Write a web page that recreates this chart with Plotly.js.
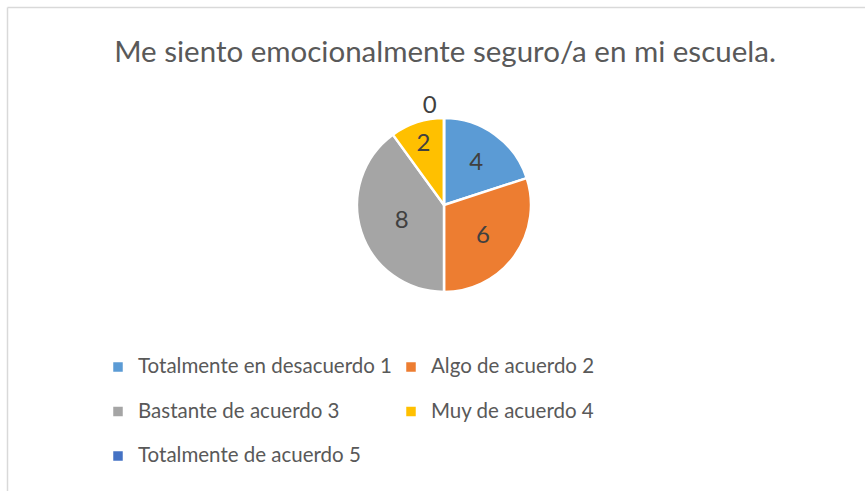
<!DOCTYPE html>
<html>
<head>
<meta charset="utf-8">
<script src="https://cdn.plot.ly/plotly-3.0.1.min.js"></script>
<style>
html,body{margin:0;padding:0;background:#fff;}
#chart{width:865px;height:491px;}
</style>
</head>
<body>
<div id="chart"></div>
<script>
const categories = [
  "Totalmente en desacuerdo 1",
  "Algo de acuerdo 2",
  "Bastante de acuerdo 3",
  "Muy de acuerdo 4",
  "Totalmente de acuerdo 5"
];
const values = [4, 6, 8, 2, 0];
const colors = ["#5B9BD5", "#ED7D31", "#A5A5A5", "#FFC000", "#4472C4"];
const titleText = "Me siento emocionalmente seguro/a en mi escuela.";

const W = 865, H = 491;
const cx = 444, cy = 205, r = 87;

const trace = {
  type: "pie",
  labels: categories.map(c => '<span style="font-size:20.5px">' + c + '</span><br> '),
  values: values,
  sort: false,
  direction: "clockwise",
  rotation: 0,
  textinfo: "value",
  textposition: values.map(v => v === 0 ? "outside" : "inside"),
  insidetextorientation: "horizontal",
  textfont: {family: "Lato, sans-serif", size: 24, color: "#404040"},
  outsidetextfont: {family: "Lato, sans-serif", size: 24, color: "#404040"},
  insidetextfont: {family: "Lato, sans-serif", size: 24, color: "#404040"},
  marker: {colors: colors, line: {color: "#ffffff", width: 2.5}},
  domain: {x: [(cx - r) / W, (cx + r) / W], y: [1 - (cy + r) / H, 1 - (cy - r) / H]},
  hoverinfo: "value+percent"
};

const layout = {
  width: W, height: H,
  margin: {l: 0, r: 0, t: 0, b: 0, autoexpand: false},
  paper_bgcolor: "#ffffff",
  title: {
    text: titleText,
    font: {family: "Lato, sans-serif", size: 29.5, color: "#595959"},
    x: 445 / W, xanchor: "center",
    y: 1 - 52 / H, yanchor: "middle",
    xref: "paper", yref: "container"
  },
  showlegend: true,
  legend: {
    orientation: "h",
    x: 98 / W, xanchor: "left",
    y: 1 - 350 / H, yanchor: "top",
    entrywidth: 248, entrywidthmode: "pixels",
    valign: "top",
    font: {family: "Lato, sans-serif", size: 16, color: "#595959"},
    traceorder: "normal"
  },
  shapes: [
    {type: "line", xref: "paper", yref: "paper", x0: 7.5 / W, x1: 1, y0: 1 - 7.5 / H, y1: 1 - 7.5 / H, line: {color: "#d9d9d9", width: 1.5}},
    {type: "line", xref: "paper", yref: "paper", x0: 7.5 / W, x1: 7.5 / W, y0: 0, y1: 1 - 7.5 / H, line: {color: "#d9d9d9", width: 1.5}}
  ]
};

Plotly.newPlot("chart", [trace], layout, {displayModeBar: false, staticPlot: true});
</script>
</body>
</html>
